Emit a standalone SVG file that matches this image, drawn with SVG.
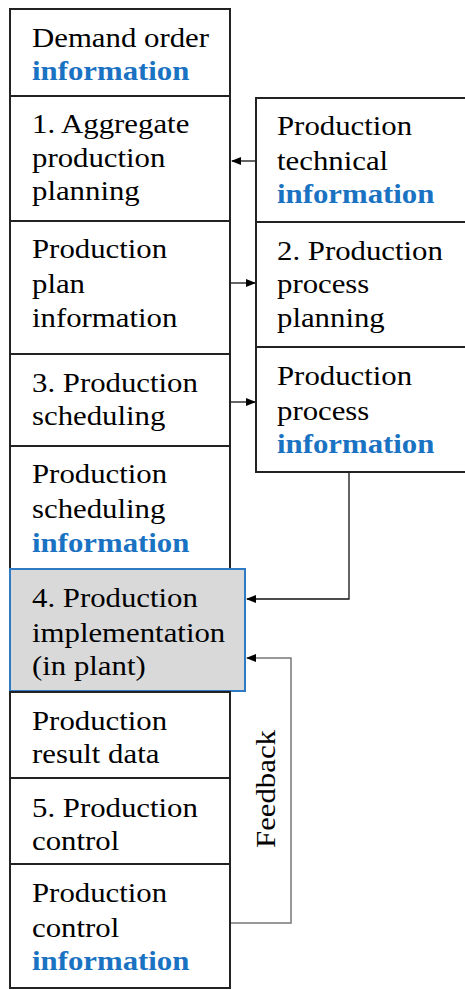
<svg xmlns="http://www.w3.org/2000/svg" width="465" height="990" viewBox="0 0 465 990">
<style>
.box{fill:#fff;stroke:#222;stroke-width:2}
.hl{fill:#d9d9d9;stroke:#2e7bc4;stroke-width:2}
text{font-family:"Liberation Serif","Times New Roman",serif;font-size:28px;fill:#000}
.b{font-weight:bold;fill:#1a72c2}
.c{fill:none;stroke:#111;stroke-width:1.3}
.g{fill:none;stroke:#777;stroke-width:1.5}
</style>
<defs>
<marker id="ah" markerWidth="10" markerHeight="8" refX="9" refY="4" orient="auto" markerUnits="userSpaceOnUse">
<path d="M0,0 L10,4 L0,8 Z" fill="#000"/>
</marker>
</defs>
<g id="connectors">
<line class="c" x1="256" y1="161" x2="232" y2="161" marker-end="url(#ah)"/>
<line class="c" x1="230" y1="283" x2="255" y2="283" marker-end="url(#ah)"/>
<line class="c" x1="230" y1="402" x2="255" y2="402" marker-end="url(#ah)"/>
<polyline class="c" points="349,472 349,599 247,599" marker-end="url(#ah)"/>
<polyline class="g" points="231,923 291,923 291,658 247,658" marker-end="url(#ah)"/>
<text transform="translate(275,789) rotate(-90) scale(1.1,1)" text-anchor="middle">Feedback</text>
</g>
<g id="demand">
<rect class="box" x="10" y="9" width="220" height="87"/>
<text transform="matrix(1.1,0,0,1,32,47)">Demand order</text>
<text class="b" transform="matrix(1.1,0,0,1,32,80)">information</text>
</g>
<g id="aggregate">
<rect class="box" x="10" y="96" width="220" height="125"/>
<text transform="matrix(1.1,0,0,1,32,133)">1. Aggregate</text>
<text transform="matrix(1.1,0,0,1,32,167)">production</text>
<text transform="matrix(1.1,0,0,1,32,200)">planning</text>
</g>
<g id="planinfo">
<rect class="box" x="10" y="221" width="220" height="133"/>
<text transform="matrix(1.1,0,0,1,32,258)">Production</text>
<text transform="matrix(1.1,0,0,1,32,293)">plan</text>
<text transform="matrix(1.1,0,0,1,32,327)">information</text>
</g>
<g id="scheduling">
<rect class="box" x="10" y="354" width="220" height="92"/>
<text transform="matrix(1.1,0,0,1,32,392)">3. Production</text>
<text transform="matrix(1.1,0,0,1,32,425)">scheduling</text>
</g>
<g id="schedinfo">
<rect class="box" x="10" y="446" width="220" height="123"/>
<text transform="matrix(1.1,0,0,1,32,483)">Production</text>
<text transform="matrix(1.1,0,0,1,32,518)">scheduling</text>
<text class="b" transform="matrix(1.1,0,0,1,32,552)">information</text>
</g>
<g id="implementation">
<rect class="hl" x="10" y="569" width="235" height="122"/>
<text transform="matrix(1.1,0,0,1,32,607)">4. Production</text>
<text transform="matrix(1.1,0,0,1,32,642)">implementation</text>
<text transform="matrix(1.1,0,0,1,32,675)">(in plant)</text>
</g>
<g id="result">
<rect class="box" x="10" y="692" width="220" height="86"/>
<text transform="matrix(1.1,0,0,1,32,730)">Production</text>
<text transform="matrix(1.1,0,0,1,32,763)">result data</text>
</g>
<g id="control">
<rect class="box" x="10" y="778" width="220" height="86"/>
<text transform="matrix(1.1,0,0,1,32,817)">5. Production</text>
<text transform="matrix(1.1,0,0,1,32,850)">control</text>
</g>
<g id="controlinfo">
<rect class="box" x="10" y="864" width="220" height="124"/>
<text transform="matrix(1.1,0,0,1,32,902)">Production</text>
<text transform="matrix(1.1,0,0,1,32,937)">control</text>
<text class="b" transform="matrix(1.1,0,0,1,32,970)">information</text>
</g>
<g id="technical">
<rect class="box" x="256" y="98" width="215" height="124"/>
<text transform="matrix(1.1,0,0,1,277,135)">Production</text>
<text transform="matrix(1.1,0,0,1,277,170)">technical</text>
<text class="b" transform="matrix(1.1,0,0,1,277,203)">information</text>
</g>
<g id="processplanning">
<rect class="box" x="256" y="222" width="215" height="125"/>
<text transform="matrix(1.1,0,0,1,277,260)">2. Production</text>
<text transform="matrix(1.1,0,0,1,277,293)">process</text>
<text transform="matrix(1.1,0,0,1,277,327)">planning</text>
</g>
<g id="processinfo">
<rect class="box" x="256" y="347" width="215" height="125"/>
<text transform="matrix(1.1,0,0,1,277,385)">Production</text>
<text transform="matrix(1.1,0,0,1,277,420)">process</text>
<text class="b" transform="matrix(1.1,0,0,1,277,453)">information</text>
</g>
</svg>
